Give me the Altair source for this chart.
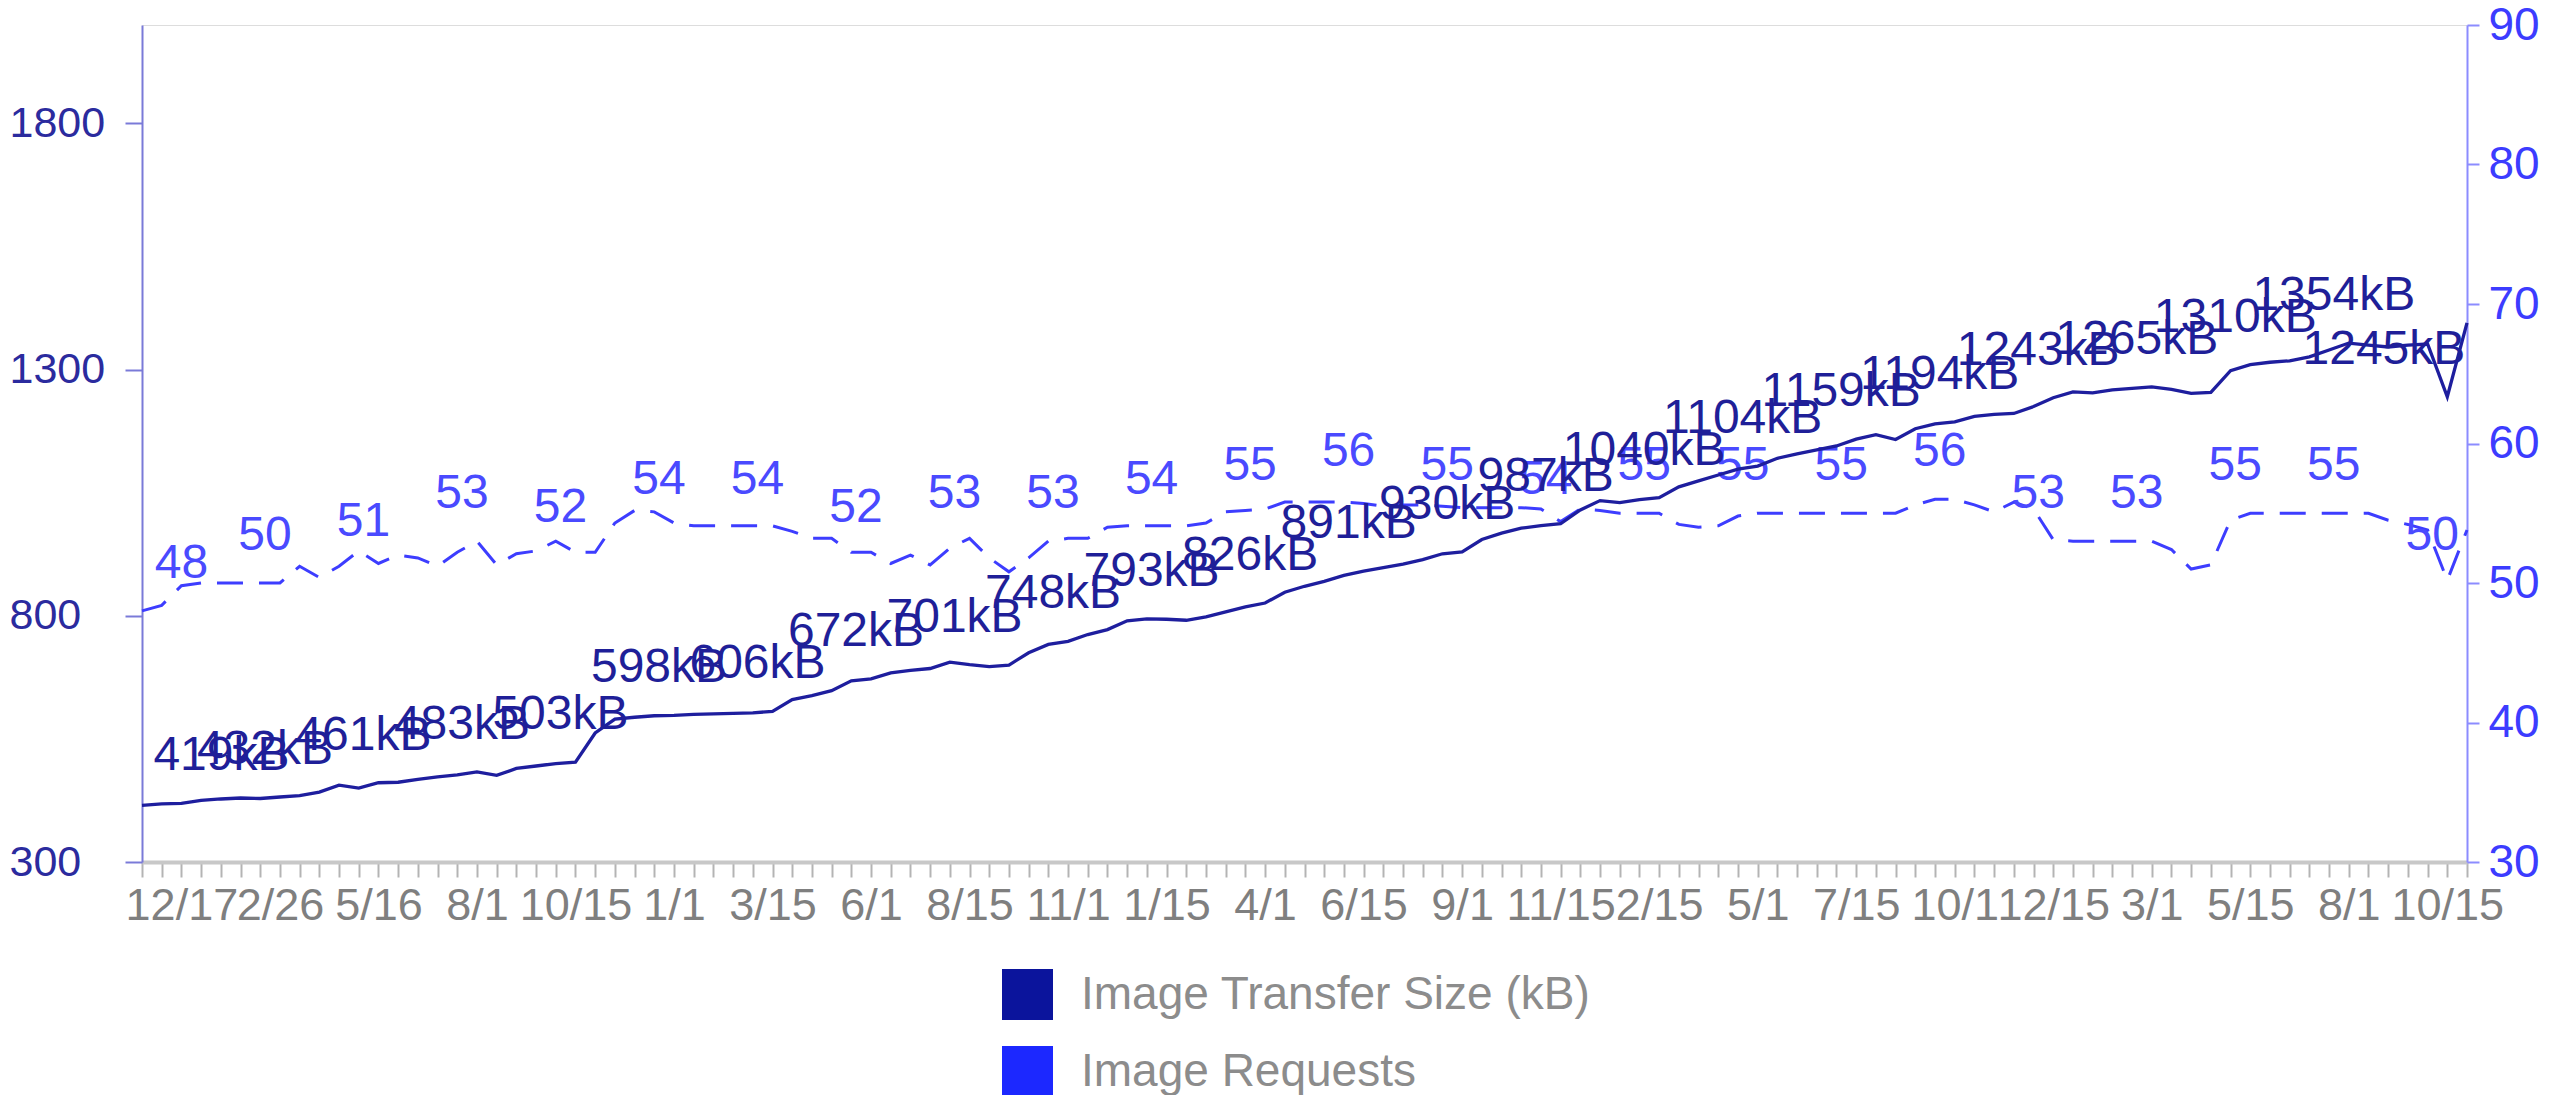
import altair as alt
import pandas as pd

# ---- data ----
X_LABELS = ["12/17", "2/26", "5/16", "8/1", "10/15", "1/1", "3/15", "6/1", "8/15",
            "11/1", "1/15", "4/1", "6/15", "9/1", "11/15", "2/15", "5/1", "7/15",
            "10/1", "12/15", "3/1", "5/15", "8/1", "10/15"]
LABEL_START = 2
LABEL_STEP = 5

SIZE_KB = [415, 418, 419, 425, 428, 430, 429, 432, 435, 442,
           456, 450, 461, 462, 468, 473, 477, 483, 476, 490,
           495, 500, 503, 562, 590, 594, 597, 598, 600, 601,
           602, 603, 606, 630, 638, 648, 668, 672, 684, 689,
           693, 706, 701, 697, 700, 725, 742, 748, 762, 772,
           790, 794, 793, 791, 798, 808, 818, 826, 848, 860,
           870, 882, 891, 898, 905, 914, 926, 930, 955, 968,
           978, 983, 987, 1015, 1034, 1030, 1036, 1040, 1062, 1074,
           1086, 1098, 1104, 1120, 1129, 1137, 1145, 1159, 1168, 1158,
           1180, 1190, 1194, 1205, 1209, 1211, 1225, 1243, 1255, 1253,
           1259, 1262, 1265, 1260, 1252, 1254, 1298, 1310, 1315, 1318,
           1326, 1340, 1354, 1350, 1346, 1350, 1352, 1245, 1395]

REQUESTS = [48, 48.4, 49.8, 50, 50, 50, 50, 50, 51.2, 50.4,
            51.2, 52.3, 51.4, 52, 51.8, 51.2, 52.2, 53, 51.3, 52.1,
            52.3, 53, 52.2, 52.2, 54.3, 55.2, 55.1, 54.3, 54.1, 54.1,
            54.1, 54.1, 54.1, 53.7, 53.2, 53.2, 52.2, 52.2, 51.4, 52,
            51.3, 52.5, 53.2, 51.8, 50.8, 51.8, 53, 53.2, 53.2, 54,
            54.1, 54.1, 54.1, 54.1, 54.3, 55.1, 55.2, 55.3, 55.8, 55.8,
            55.8, 55.8, 55.7, 55.5, 55.6, 55.6, 55.5, 55.4, 55.4, 55.4,
            55.4, 55.3, 54.4, 55.3, 55.2, 55, 55, 55, 54.2, 54,
            54.1, 54.8, 55, 55, 55, 55, 55, 55, 55, 55,
            55.6, 56, 56, 55.6, 55.1, 55.8, 55.3, 53.1, 53, 53,
            53, 53, 53, 52.4, 51, 51.3, 54.5, 55, 55, 55,
            55, 55, 55, 55, 54.5, 54.2, 53.8, 50.2, 53.8]

ANN_IDX = [2, 7, 12, 17, 22, 27, 32, 37, 42, 47, 52, 57, 62, 67, 72, 77,
           82, 87, 92, 97, 102, 107, 112, 117]
SIZE_ANN = [419, 432, 461, 483, 503, 598, 606, 672, 701, 748, 793, 826,
            891, 930, 987, 1040, 1104, 1159, 1194, 1243, 1265, 1310, 1354, 1245]
REQ_ANN = [48, 50, 51, 53, 52, 54, 54, 52, 53, 53, 54, 55,
           56, 55, 54, 55, 55, 55, 56, 53, 53, 55, 55, 50]

SERIES = ["Image Transfer Size (kB)", "Image Requests"]

# ---- styling ----
FONT = "Liberation Sans"
SIZE_COLOR = "#1e1e9e"
REQ_COLOR = "#3d3dff"
LEGEND_COLORS = ["#0b149c", "#1c28ff"]
# annotation placement styles: (align, dx)
STYLES = {"first": ("left", -28), "mid": ("center", -15), "last": ("right", 18),
          "rfirst": ("center", 0)}

n = len(SIZE_KB)
df = pd.DataFrame({"idx": list(range(n)), "size": SIZE_KB, "req": REQUESTS})

k = len(ANN_IDX)
size_ann = pd.DataFrame({
    "idx": ANN_IDX,
    "size": SIZE_ANN,
    "label": [f"{v}kB" for v in SIZE_ANN],
    "style": ["first"] + ["mid"] * (k - 2) + ["last"],
})
req_ann = pd.DataFrame({
    "idx": ANN_IDX,
    "req": REQ_ANN,
    "label": [str(v) for v in REQ_ANN],
    "style": ["rfirst"] + ["mid"] * (k - 1),
})
legend_df = pd.DataFrame({"series": SERIES})

labels_js = "[" + ",".join(f"'{l}'" for l in X_LABELS) + "]"
label_expr = (f"(datum.value >= {LABEL_START} && (datum.value - {LABEL_START}) % {LABEL_STEP} == 0)"
              f" ? {labels_js}[(datum.value - {LABEL_START}) / {LABEL_STEP}] : ''")

x_scale = alt.Scale(domain=[0, n - 1], nice=False, zero=False)
x_axis = alt.Axis(values=list(range(n)), labelExpr=label_expr, labelOverlap=False,
                  labelFlush=False, grid=False, title=None, domainColor="#c8c8c8",
                  domainWidth=4, tickColor="#b4b4b4", tickWidth=2, tickSize=15,
                  labelColor="#7f7f7f", labelFontSize=45, labelFont=FONT,
                  labelPadding=6, labelAngle=0)
X_ENC = alt.X("idx:Q", scale=x_scale, axis=x_axis)

size_scale = alt.Scale(domain=[300, 2000], nice=False, zero=False)
req_scale = alt.Scale(domain=[30, 90], nice=False, zero=False)

left_axis = alt.Axis(orient="left", values=[300, 800, 1300, 1800], format="d", grid=False,
                     title=None, domainColor="#7a7ad8", domainWidth=2, tickColor="#7a7ad8",
                     tickWidth=2, tickSize=17, labelColor="#2b2b9e", labelFontSize=43,
                     labelFont=FONT, labelAlign="left", labelPadding=116)
right_axis = alt.Axis(orient="right", values=[30, 40, 50, 60, 70, 80, 90], format="d",
                      grid=False, title=None, domainColor="#8c8cff", domainWidth=2,
                      tickColor="#8c8cff", tickWidth=2, tickSize=12, labelColor="#3c3cff",
                      labelFontSize=46, labelFont=FONT, labelPadding=9)


def text_layers(data, field, color):
    out = []
    for key in data["style"].unique():
        align, dx = STYLES[key]
        out.append(
            alt.Chart(data).transform_filter(alt.datum.style == key)
            .mark_text(align=align, baseline="alphabetic", dx=dx, dy=-33, fontSize=48,
                       font=FONT, color=color)
            .encode(x=X_ENC, y=alt.Y(f"{field}:Q"), text="label:N")
        )
    return out


size_line = alt.Chart(df).mark_line(color=SIZE_COLOR, strokeWidth=3.3).encode(
    x=X_ENC,
    y=alt.Y("size:Q", scale=size_scale, axis=left_axis),
)
size_layer = alt.layer(size_line, *text_layers(size_ann, "size", "#1f1f98"))

req_line = alt.Chart(df).mark_line(color=REQ_COLOR, strokeWidth=3, strokeDash=[26, 16]).encode(
    x=X_ENC,
    y=alt.Y("req:Q", scale=req_scale, axis=right_axis),
)
req_layer = alt.layer(req_line, *text_layers(req_ann, "req", "#4a4aff"))

legend_layer = alt.Chart(legend_df).mark_square(opacity=0).encode(
    color=alt.Color("series:N", sort=SERIES,
                    scale=alt.Scale(domain=SERIES, range=LEGEND_COLORS),
                    legend=alt.Legend(orient="none", legendX=860, legendY=944,
                                      direction="vertical", title=None,
                                      symbolType="square", symbolSize=2601,
                                      symbolStrokeWidth=0, symbolOpacity=1,
                                      labelFontSize=46, labelFont=FONT,
                                      labelColor="#8c8c8c", labelOffset=28,
                                      rowPadding=26, labelLimit=0))
)

chart = (
    alt.layer(req_layer, size_layer, legend_layer)
    .resolve_scale(y="independent")
    .properties(width=2325, height=837,
                autosize=alt.AutoSizeParams(type="none"),
                padding={"left": 134, "top": 17, "right": 76, "bottom": 233})
    .configure_view(stroke=None)
    .configure(background="white")
)

chart.save("out.html", embed_options={"renderer": "svg", "actions": False})
